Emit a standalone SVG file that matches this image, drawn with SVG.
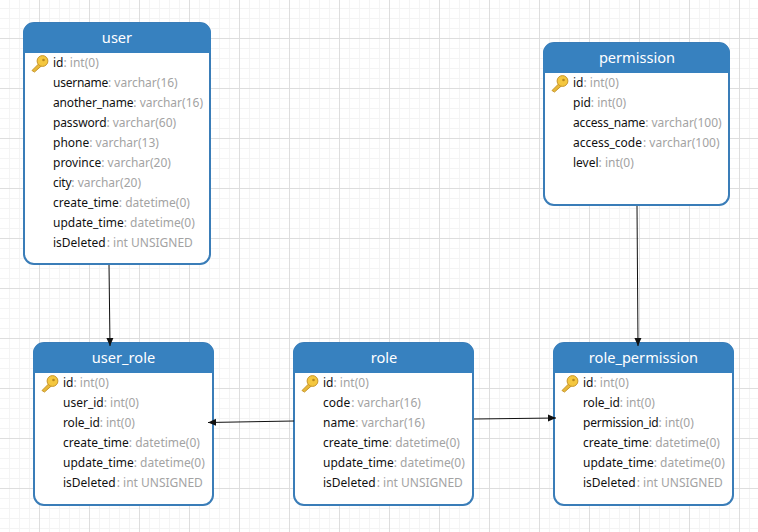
<svg xmlns="http://www.w3.org/2000/svg" width="758" height="532" viewBox="0 0 758 532">
<style>
.box{fill:#fff;stroke:#3a7db8;stroke-width:2}
.head{fill:#3781bf}
.title{font:14.6px "Noto Sans","Liberation Sans",sans-serif;fill:#fff;text-anchor:middle}
.f{font:12px "Noto Sans","Liberation Sans",sans-serif;fill:#111}
.f tspan{fill:#a3a3a3;letter-spacing:0}
.c{stroke:#111;stroke-width:1;fill:none;marker-end:url(#arr)}
</style>
<defs>
<pattern id="minor" width="10" height="10" patternUnits="userSpaceOnUse" x="9" y="8"><path d="M.5 0V10M0 .5H10" stroke="#f4f4f4" fill="none"/></pattern>
<pattern id="major" width="50" height="50" patternUnits="userSpaceOnUse" x="39" y="38"><path d="M.5 0V50M0 .5H50" stroke="#dedede" fill="none"/></pattern>
<marker id="arr" markerUnits="userSpaceOnUse" markerWidth="9" markerHeight="9" refX="8" refY="4.500" orient="auto"><path d="M0 1L8 4.500L0 8z" fill="#111"/></marker>
<g id="key"><path d="M1 15.500L9.500 7L12 9.500L3.500 17z" fill="#e8b93a" stroke="#c8962a" stroke-width="1"/><circle cx="11.500" cy="6" r="5.400" fill="#f4c73f" stroke="#c8962a" stroke-width="1"/><circle cx="12.500" cy="5" r="1.300" fill="#b98a20"/></g>
</defs>
<rect width="758" height="532" fill="#fff"/>
<rect width="758" height="532" fill="url(#minor)"/>
<rect width="758" height="532" fill="url(#major)"/>
<g id="user">
<rect class="box" x="24" y="23" width="186" height="241" rx="10"/>
<path class="head" d="M23 53V33a10 10 0 0 1 10-10H201a10 10 0 0 1 10 10V53z"/>
<text class="title" x="117" y="43">user</text>
<use href="#key" x="31" y="55"/>
<text class="f" x="53" y="67">id<tspan>: int(0)</tspan></text>
<text class="f" x="53" y="87" letter-spacing="-.25">username<tspan>: varchar(16)</tspan></text>
<text class="f" x="53" y="107" letter-spacing="-.17">another_name<tspan>: varchar(16)</tspan></text>
<text class="f" x="53" y="127" letter-spacing="-.12">password<tspan>: varchar(60)</tspan></text>
<text class="f" x="53" y="147">phone<tspan>: varchar(13)</tspan></text>
<text class="f" x="53" y="167">province<tspan>: varchar(20)</tspan></text>
<text class="f" x="53" y="187" letter-spacing="-.25">city<tspan>: varchar(20)</tspan></text>
<text class="f" x="53" y="207">create_time<tspan>: datetime(0)</tspan></text>
<text class="f" x="53" y="227">update_time<tspan>: datetime(0)</tspan></text>
<text class="f" x="53" y="247">isDeleted<tspan dx="1">: int UNSIGNED</tspan></text>
</g>
<g id="permission">
<rect class="box" x="544" y="43" width="185" height="162" rx="10"/>
<path class="head" d="M543 73V53a10 10 0 0 1 10-10H720a10 10 0 0 1 10 10V73z"/>
<text class="title" x="637" y="63">permission</text>
<use href="#key" x="551" y="75"/>
<text class="f" x="573" y="87">id<tspan>: int(0)</tspan></text>
<text class="f" x="573" y="107">pid<tspan>: int(0)</tspan></text>
<text class="f" x="573" y="127" letter-spacing="-.17">access_name<tspan>: varchar(100)</tspan></text>
<text class="f" x="573" y="147">access_code<tspan dx="1">: varchar(100)</tspan></text>
<text class="f" x="573" y="167">level<tspan>: int(0)</tspan></text>
</g>
<g id="user_role">
<rect class="box" x="34" y="343" width="179" height="162" rx="10"/>
<path class="head" d="M33 373V353a10 10 0 0 1 10-10H204a10 10 0 0 1 10 10V373z"/>
<text class="title" x="123.500" y="363">user_role</text>
<use href="#key" x="41" y="375"/>
<text class="f" x="63" y="387">id<tspan>: int(0)</tspan></text>
<text class="f" x="63" y="407">user_id<tspan>: int(0)</tspan></text>
<text class="f" x="63" y="427" letter-spacing="-.14">role_id<tspan>: int(0)</tspan></text>
<text class="f" x="63" y="447">create_time<tspan>: datetime(0)</tspan></text>
<text class="f" x="63" y="467">update_time<tspan>: datetime(0)</tspan></text>
<text class="f" x="63" y="487">isDeleted<tspan dx="1">: int UNSIGNED</tspan></text>
</g>
<g id="role">
<rect class="box" x="294" y="343" width="179" height="162" rx="10"/>
<path class="head" d="M293 373V353a10 10 0 0 1 10-10H464a10 10 0 0 1 10 10V373z"/>
<text class="title" x="384" y="363">role</text>
<use href="#key" x="301" y="375"/>
<text class="f" x="323" y="387">id<tspan>: int(0)</tspan></text>
<text class="f" x="323" y="407">code<tspan dx="1">: varchar(16)</tspan></text>
<text class="f" x="323" y="427">name<tspan>: varchar(16)</tspan></text>
<text class="f" x="323" y="447">create_time<tspan>: datetime(0)</tspan></text>
<text class="f" x="323" y="467">update_time<tspan>: datetime(0)</tspan></text>
<text class="f" x="323" y="487">isDeleted<tspan dx="1">: int UNSIGNED</tspan></text>
</g>
<g id="role_permission">
<rect class="box" x="554" y="343" width="179" height="162" rx="10"/>
<path class="head" d="M553 373V353a10 10 0 0 1 10-10H724a10 10 0 0 1 10 10V373z"/>
<text class="title" x="643.500" y="363">role_permission</text>
<use href="#key" x="561" y="375"/>
<text class="f" x="583" y="387">id<tspan>: int(0)</tspan></text>
<text class="f" x="583" y="407" letter-spacing="-.14">role_id<tspan>: int(0)</tspan></text>
<text class="f" x="583" y="427" letter-spacing="-.23">permission_id<tspan>: int(0)</tspan></text>
<text class="f" x="583" y="447">create_time<tspan>: datetime(0)</tspan></text>
<text class="f" x="583" y="467">update_time<tspan>: datetime(0)</tspan></text>
<text class="f" x="583" y="487">isDeleted<tspan dx="1">: int UNSIGNED</tspan></text>
</g>
<g id="connectors">
<path class="c" d="M109 265L110 346"/>
<path class="c" d="M637 206L638 346"/>
<path class="c" d="M294 421L208 422.500"/>
<path class="c" d="M474 419L556 418"/>
</g>
</svg>
